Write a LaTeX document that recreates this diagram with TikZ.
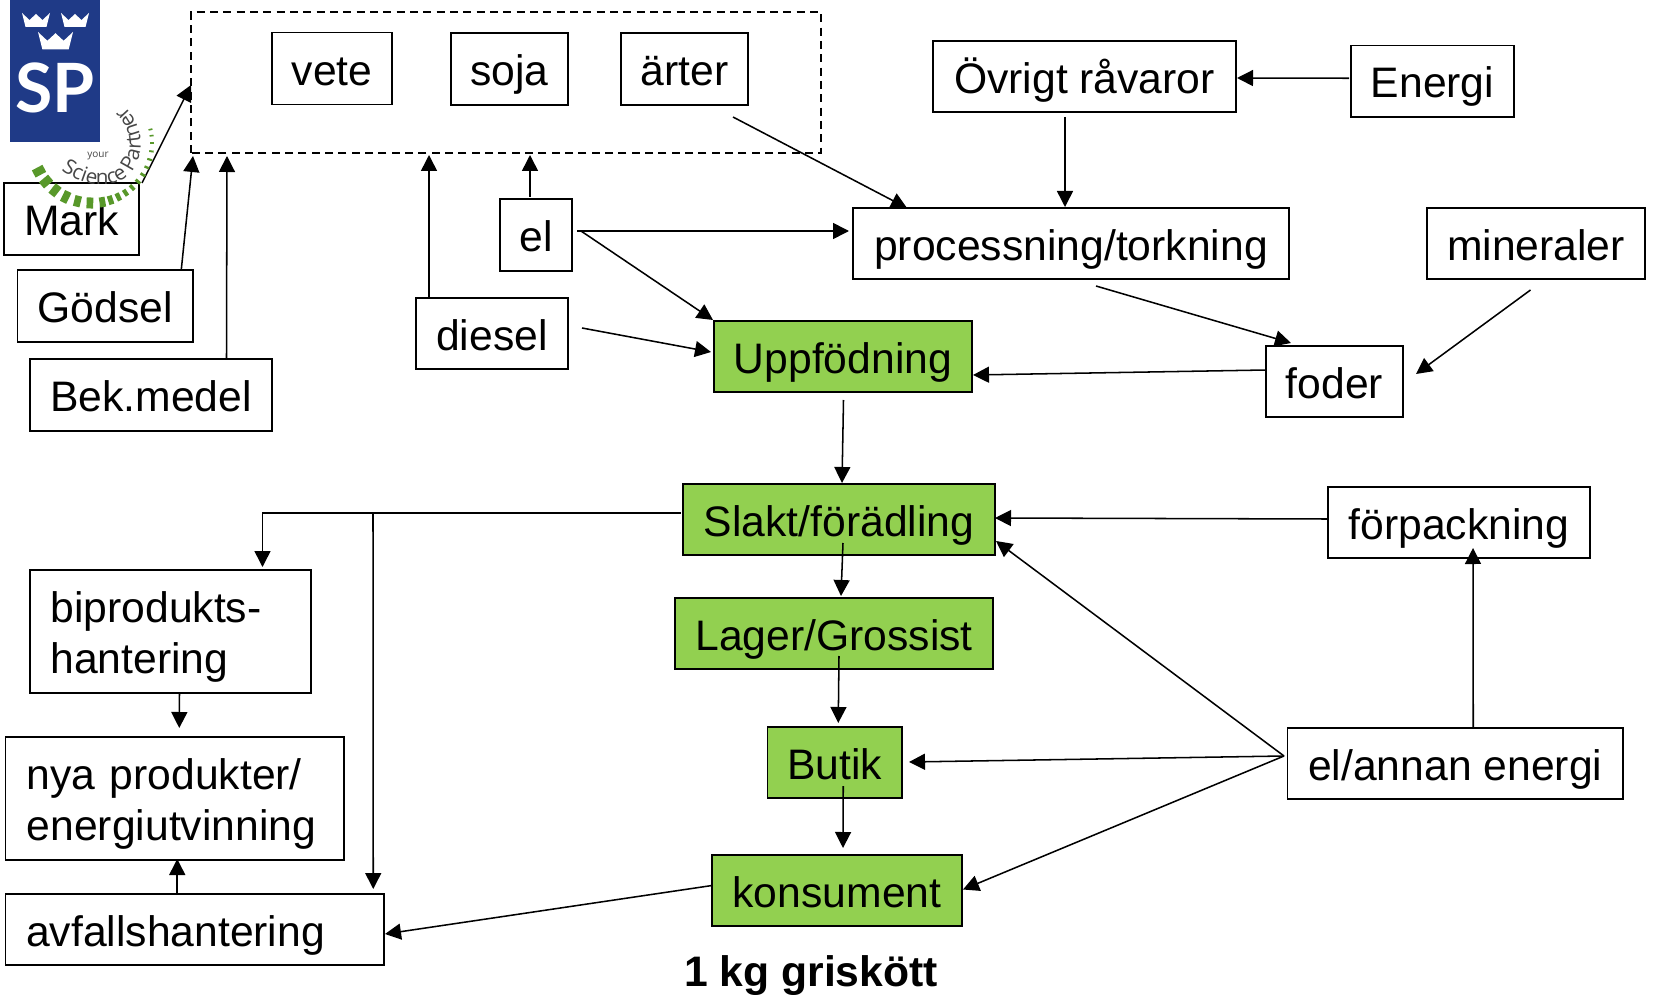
\documentclass[tikz,border=0pt]{standalone}
\usepackage{fontspec}
\setmainfont{Liberation Sans}
\newfontfamily\lgf{Open Sans}
\newfontfamily\spf{Lato}
\usetikzlibrary{arrows.meta,decorations.text}
\definecolor{grn}{HTML}{92D050}
\definecolor{spblue}{RGB}{31,58,135}
\definecolor{loggrn}{RGB}{88,152,42}
\definecolor{loggray}{RGB}{70,70,70}
\tikzset{
  x=.75pt,y=.75pt,
  boxs/.style={draw=black,line width=1.15pt,inner sep=0pt,outer sep=0pt,
    font=\fontsize{32}{38}\selectfont,text=black},
  one/.style={text height=31pt,text depth=6pt},
  two/.style={align=left},
  gbox/.style={fill=grn},
  arr/.style={draw=black,line width=1.15pt,-{Triangle[length=12pt,width=12pt]}},
  dashbox/.style={draw=black,line width=1.15pt,dash pattern=on 6pt off 4pt,inner sep=0pt,outer sep=0pt},
  crownst/.style={fill=white,draw=none},
  titl/.style={font=\fontsize{32}{38}\selectfont\bfseries,inner sep=0pt}
}
\newcommand\mybox[7]{%
  \pgfmathsetmacro\mybw{(#4-#2)*0.75}%
  \pgfmathsetmacro\mybh{(#5-#3)*0.75}%
  \pgfmathsetmacro\mycx{(#4+#2)/2}%
  \pgfmathsetmacro\mycy{(#5+#3)/2}%
  \node[boxs,#6,minimum width=\mybw pt,minimum height=\mybh pt] (#1) at (\mycx,-\mycy) {#7};}
\newcommand\mycrown[3]{% centre x, top y, half width
  \pgfmathsetmacro\myw{#3}%
  \fill[crownst,shift={(#1,-#2)},scale=\myw/14]
    (-14,0) -- (-6.5,-7) -- (0,-1) -- (6.5,-7) -- (14,0) -- (10.5,-14) -- (-10.5,-14) -- cycle;}
\begin{document}
\begin{tikzpicture}
\useasboundingbox (0,0) rectangle (1653,-995);
% boxes
\mybox{dash}{191}{12}{821}{153}{dashbox,draw=none}{}
\draw[dashbox] (dash.south west) rectangle (dash.north east);
\mybox{mark}{4}{183}{139}{255}{one}{Mark}
\mybox{godsel}{17.5}{270}{193}{342}{one}{Gödsel}
\mybox{bek}{30}{359}{272}{431}{one}{Bek.medel}
\mybox{vete}{272}{32.5}{392}{104.5}{one}{vete}
\mybox{soja}{451}{33}{568}{105}{one}{soja}
\mybox{arter}{621}{33}{748}{105}{one}{ärter}
\mybox{ovr}{933}{41}{1236}{112}{one}{Övrigt råvaror}
\mybox{energi}{1351}{45.5}{1514}{117}{one}{Energi}
\mybox{proc}{853}{208}{1289}{279}{one}{processning/torkning}
\mybox{mineral}{1427}{208}{1645}{279}{one}{mineraler}
\mybox{el}{500}{199}{572}{271}{one}{el}
\mybox{diesel}{416}{298}{568}{369}{one}{diesel}
\mybox{upp}{714}{321}{972}{392}{one,gbox}{Uppfödning}
\mybox{foder}{1266}{346}{1403}{417}{one}{foder}
\mybox{slakt}{683}{484}{995}{555}{one,gbox}{Slakt/förädling}
\mybox{forp}{1328}{487}{1590}{558}{one}{förpackning}
\mybox{lager}{675}{598}{993}{669}{one,gbox}{Lager/Grossist}
\mybox{bip}{30}{570}{311}{693}{two,text width=180pt}{\rule{0pt}{31pt}biprodukts-\\hantering}
\mybox{nya}{5.5}{737}{344}{860}{two,text width=222pt}{\rule{0pt}{31pt}nya produkter/\\energiutvinning}
\mybox{avfall}{5.5}{894}{384}{965}{one,text width=253pt}{avfallshantering}
\mybox{butik}{767.5}{727}{902}{798}{one,gbox}{Butik}
\mybox{elann}{1287.5}{728}{1623}{799}{one}{el/annan energi}
\mybox{kons}{712}{855}{962}{926}{one,gbox}{konsument}
\node[titl] (titel) at (811,-976) {1 kg griskött};
% connectors
\draw[arr] ([shift={(3,0)}]mark.north east) -- ([shift={(0,-2.5)}]dash.west);
\draw[arr] ([shift={(76,0)}]godsel.north) -- ([shift={(2,-3)}]dash.south west);
\draw[arr] ([shift={(75.5,0)}]bek.north) -- ([shift={(36,-3)}]dash.south west);
\draw[arr] ([shift={(-63,0)}]diesel.north) -- ([shift={(238,-2)}]dash.south west);
\draw[arr] ([shift={(-6,2)}]el.north) -- ([shift={(339,-2)}]dash.south west);
\draw[arr] ([shift={(5,4)}]el.east) -- ([shift={(-4,12.5)}]proc.west);
\draw[arr] ([shift={(9,4)}]el.east) -- ([shift={(-1,1)}]upp.north west);
\draw[arr] ([shift={(14,5.5)}]diesel.east) -- ([shift={(-3,4.5)}]upp.west);
\draw[arr] ([shift={(48.5,-12)}]arter.south) -- ([shift={(54,0)}]proc.north west);
\draw[arr] ([shift={(-19.5,-5)}]ovr.south) -- ([shift={(-6,1)}]proc.north);
\draw[arr] ([shift={(-2,3)}]energi.west) -- ([shift={(1,-1.5)}]ovr.east);
\draw[arr] ([shift={(25,-7)}]proc.south) -- ([shift={(-43.5,3)}]foder.north);
\draw[arr] ([shift={(-5.5,-11)}]mineral.south) -- ([shift={(13,7.5)}]foder.east);
\draw[arr] ([shift={(0,11.5)}]foder.west) -- ([shift={(1,-18.5)}]upp.east);
\draw[arr] ([shift={(0.5,-8)}]upp.south) -- ([shift={(3,1)}]slakt.north);
\draw[arr] ([shift={(4,12)}]slakt.south) -- ([shift={(7,2)}]lager.north);
\draw[arr] ([shift={(5,13)}]lager.south) -- ([shift={(3.5,4)}]butik.north);
\draw[arr] ([shift={(8.5,12)}]butik.south) -- ([shift={(6,7)}]kons.north);
\draw[arr] ([shift={(0,3.5)}]forp.west) -- ([shift={(0,1.5)}]slakt.east);
\draw[arr] ([shift={(18,0)}]elann.north) -- ([shift={(14,10)}]forp.south);
\draw[arr] ([shift={(-3.5,7.5)}]elann.west) -- ([shift={(1,14)}]slakt.south east);
\draw[arr] ([shift={(-3.5,7.5)}]elann.west) -- ([shift={(7,0.5)}]butik.east);
\draw[arr] ([shift={(-3.5,7.5)}]elann.west) -- ([shift={(1,1)}]kons.east);
\draw[arr] ([shift={(-2,6.5)}]slakt.west) -| ([shift={(92,3)}]bip.north);
\coordinate (branch) at (373,-513);
\draw[arr] (branch) -- ([shift={(178.5,5)}]avfall.north);
\draw[arr] ([shift={(9,0)}]bip.south) -- ([shift={(4.5,9)}]nya.north);
\draw[arr] ([shift={(-17.5,-1)}]avfall.north) -- ([shift={(2.5,1)}]nya.south);
\draw[arr] ([shift={(0,5)}]kons.west) -- ([shift={(1,-4.5)}]avfall.east);
% logo
\fill[spblue] (10,0) rectangle (100,-142);
\mycrown{36}{13}{14}
\mycrown{75}{13}{14}
\mycrown{55.5}{32}{17.5}
\node[inner sep=0pt,anchor=base,text=white,font=\fontsize{51}{52}\selectfont\spf\bfseries] (sp) at (55,-113) {SP};
\foreach \myang/\myl/\myww in {208/12/6,220/12/6,232/12/5.6,244/12/5.2,256/11/5,268/11/5,280/10/4.4,288/9/3.8,296/8/3.4,304/7/3,312/6.5/2.6,320/6/2.2,328/5.5/2,336/5/1.8,344/5/1.6,352/4.5/1.4,360/4/1.3,367/4/1.2,373/4/1.2}{
  \pgfmathsetmacro\myra{60-\myl/2}
  \pgfmathsetmacro\myrb{60+\myl/2}
  \draw[loggrn,line width=\myww pt] ([shift={(92,-143)}]\myang:\myra) -- ([shift={(92,-143)}]\myang:\myrb);
}
\node[inner sep=0pt,text=loggray,font=\fontsize{7.5}{8}\selectfont\lgf] (your) at (98,-156) {your};
\path[decorate,decoration={text along path,text align=center,text color=loggray,
  text={|\fontsize{15.5}{17}\selectfont\lgf|Science Partner}}]
  (53,-164) .. controls (72,-180) and (100,-192) .. (122,-180) .. controls (146,-166) and (150,-122) .. (116,-100);
\end{tikzpicture}
\end{document}
